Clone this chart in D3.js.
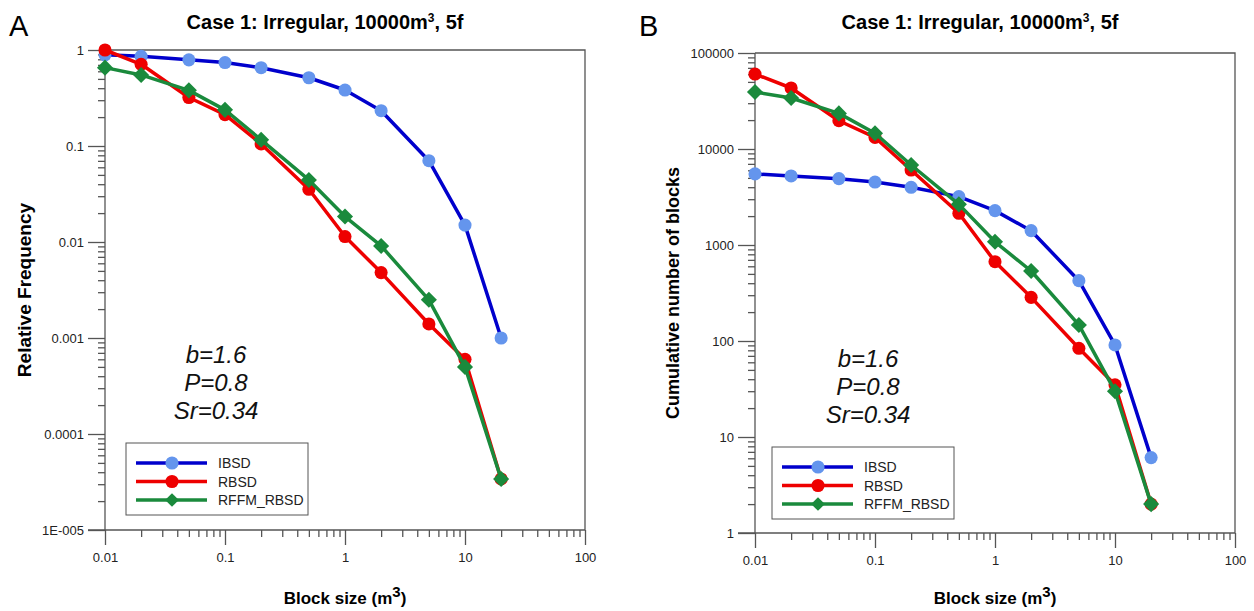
<!DOCTYPE html>
<meta charset="utf-8">
<style>

body {
  margin: 0;
  background: #fff;
}

text {
  font-family: "Liberation Sans", Arial, sans-serif;
}

.axis path,
.axis line {
  stroke: #555;
  stroke-width: 1.3px;
}

.axis text {
  font-size: 13px;
  fill: #222;
}

</style>
<body>
<script src="https://d3js.org/d3.v7.min.js"></script>
<script>

var width = 1254,
    height = 611;

// block sizes (m3), shared by both panels
var sizes = [0.01, 0.02, 0.05, 0.1, 0.2, 0.5, 1, 2, 5, 10, 20];

// panel A: relative frequency
var freqIBSD = [0.89, 0.86, 0.79, 0.74, 0.654, 0.514, 0.383, 0.233, 0.0703, 0.015, 0.001];
var freqRBSD = [1.0, 0.71, 0.32, 0.212, 0.105, 0.0354, 0.0114, 0.0048, 0.0014, 0.0006, 0.000034];
var freqRFFM = [0.655, 0.55, 0.38, 0.238, 0.116, 0.0443, 0.0184, 0.0091, 0.0025, 0.0005, 0.000034];

// panel B: cumulative number of blocks
var cumIBSD = [5500, 5240, 4910, 4530, 3990, 3190, 2280, 1410, 425, 91, 6.1];
var cumRBSD = [60400, 43200, 19700, 13200, 6040, 2140, 670, 285, 84, 35, 2];
var cumRFFM = [39200, 34000, 23500, 14600, 6810, 2650, 1080, 536, 147, 30, 2];

var xTicks = [0.01, 0.1, 1, 10, 100],
    xTickLabels = ["0.01", "0.1", "1", "10", "100"];
var yTicksA = [1, 0.1, 0.01, 0.001, 0.0001, 0.00001],
    yTickLabelsA = ["1", "0.1", "0.01", "0.001", "0.0001", "1E-005"];
var yTicksB = [1, 10, 100, 1000, 10000, 100000],
    yTickLabelsB = ["1", "10", "100", "1000", "10000", "100000"];

var seriesNames = ["IBSD", "RBSD", "RFFM_RBSD"],
    lineColors = ["#0000cc", "#ee0000", "#1a8a3c"],
    markerColors = ["#6495ed", "#ee0000", "#1a8a3c"],
    markerShapes = ["circle", "circle", "diamond"];

var svg = d3.select("body").append("svg")
    .attr("width", width)
    .attr("height", height);

function minorTicks(lo, hi) {
  var out = [];
  for (var e = Math.round(Math.log10(lo)); e < Math.round(Math.log10(hi)); e++) {
    for (var m = 2; m <= 9; m++) out.push(m * Math.pow(10, e));
  }
  return out;
}

function marker(shape, legend) {
  return shape == "diamond"
    ? d3.symbol().type(d3.symbolDiamond2).size(legend ? 120 : 165)
    : d3.symbol().type(d3.symbolCircle).size(135);
}

function drawPanel(p) {
  var g = svg.append("g");

  var x = d3.scaleLog().domain([0.01, 100]).range([p.left, p.right]);
  var y = d3.scaleLog().domain(p.yDomain).range([p.bottom, p.top]);

  // frame: top and right edges
  g.append("path")
      .attr("d", "M" + p.left + "," + p.top + "H" + p.right + "V" + p.bottom)
      .attr("fill", "none")
      .attr("stroke", "#555")
      .attr("stroke-width", 1.3);

  // minor ticks
  g.append("g")
      .attr("class", "axis")
      .attr("transform", "translate(" + p.left + ",0)")
      .call(d3.axisLeft(y).tickValues(minorTicks(p.yDomain[0], p.yDomain[1])).tickSize(7).tickFormat(""))
      .call(function(s) { s.select(".domain").remove(); });

  g.append("g")
      .attr("class", "axis")
      .attr("transform", "translate(0," + p.bottom + ")")
      .call(d3.axisBottom(x).tickValues(minorTicks(0.01, 100)).tickSize(7).tickFormat(""))
      .call(function(s) { s.select(".domain").remove(); });

  // major ticks
  g.append("g")
      .attr("class", "axis")
      .attr("transform", "translate(" + p.left + ",0)")
      .call(d3.axisLeft(y).tickValues(p.yTicks).tickSize(17).tickPadding(4)
        .tickFormat(function(d, i) { return p.yLabels[i]; }))
      .call(function(s) { s.select(".domain").attr("d", "M0," + p.top + "V" + p.bottom); });

  g.append("g")
      .attr("class", "axis")
      .attr("transform", "translate(0," + p.bottom + ")")
      .call(d3.axisBottom(x).tickValues(xTicks).tickSize(15).tickPadding(8)
        .tickFormat(function(d, i) { return xTickLabels[i]; }))
      .call(function(s) { s.select(".domain").attr("d", "M" + (p.left - 17) + ",0H" + p.right); });

  // series
  var line = d3.line()
      .x(function(d) { return x(d[0]); })
      .y(function(d) { return y(d[1]); });

  p.series.forEach(function(vals, k) {
    var pts = sizes.map(function(s, i) { return [s, vals[i]]; });
    g.append("path")
        .datum(pts)
        .attr("d", line)
        .attr("fill", "none")
        .attr("stroke", lineColors[k])
        .attr("stroke-width", 3.5)
        .attr("stroke-linejoin", "round");
    g.selectAll(".m" + k)
        .data(pts)
      .enter().append("path")
        .attr("transform", function(d) { return "translate(" + x(d[0]) + "," + y(d[1]) + ")"; })
        .attr("d", marker(markerShapes[k], false))
        .attr("fill", markerColors[k]);
  });

  // panel letter and title
  g.append("text")
      .attr("x", p.letterX)
      .attr("y", 36)
      .attr("font-size", 29)
      .text(p.letter);

  var title = g.append("text")
      .attr("x", p.titleX)
      .attr("y", 29)
      .attr("text-anchor", "middle")
      .attr("font-size", 20)
      .attr("font-weight", "bold")
      .text("Case 1: Irregular, 10000m");
  title.append("tspan").attr("font-size", 12).attr("dy", -7).text("3");
  title.append("tspan").attr("dy", 7).text(", 5f");

  // axis titles
  g.append("text")
      .attr("transform", "translate(" + p.yLabelX + "," + ((p.top + p.bottom) / 2) + ")rotate(-90)")
      .attr("text-anchor", "middle")
      .attr("font-size", p.yLabelSize)
      .attr("font-weight", "bold")
      .text(p.yLabel);

  var xl = g.append("text")
      .attr("x", (p.left + p.right) / 2)
      .attr("y", 604)
      .attr("text-anchor", "middle")
      .attr("font-size", 17)
      .attr("font-weight", "bold")
      .text("Block size (m");
  xl.append("tspan").attr("font-size", 15).attr("dy", -7).text("3");
  xl.append("tspan").attr("dy", 7).text(")");

  // fitted parameters
  ["b=1.6", "P=0.8", "Sr=0.34"].forEach(function(t, i) {
    g.append("text")
        .attr("x", p.noteX)
        .attr("y", p.noteY + i * 28)
        .attr("text-anchor", "middle")
        .attr("font-size", 24)
        .attr("font-style", "italic")
        .attr("fill", "#111")
        .text(t);
  });

  // legend
  var lg = g.append("g").attr("transform", "translate(" + p.legendX + "," + p.legendY + ")");
  lg.append("rect")
      .attr("width", 182)
      .attr("height", 72)
      .attr("fill", "#fff")
      .attr("stroke", "#555")
      .attr("stroke-width", 1);
  seriesNames.forEach(function(name, k) {
    var ry = 20 + k * 18.5;
    lg.append("line")
        .attr("x1", 10).attr("x2", 81)
        .attr("y1", ry).attr("y2", ry)
        .attr("stroke", lineColors[k])
        .attr("stroke-width", 3.5);
    lg.append("path")
        .attr("transform", "translate(46," + ry + ")")
        .attr("d", marker(markerShapes[k], true))
        .attr("fill", markerColors[k]);
    lg.append("text")
        .attr("x", 92)
        .attr("y", ry + 5)
        .attr("font-size", 14)
        .attr("fill", "#222")
        .text(name);
  });
}

drawPanel({
  left: 105, right: 585, top: 50, bottom: 530,
  yDomain: [0.00001, 1], yTicks: yTicksA, yLabels: yTickLabelsA,
  series: [freqIBSD, freqRBSD, freqRFFM],
  letter: "A", letterX: 9, titleX: 325,
  yLabel: "Relative Frequency", yLabelX: 31, yLabelSize: 19,
  noteX: 216, noteY: 363,
  legendX: 126, legendY: 443
});

drawPanel({
  left: 755, right: 1235, top: 53, bottom: 533,
  yDomain: [1, 100000], yTicks: yTicksB, yLabels: yTickLabelsB,
  series: [cumIBSD, cumRBSD, cumRFFM],
  letter: "B", letterX: 639, titleX: 980,
  yLabel: "Cumulative number of blocks", yLabelX: 679, yLabelSize: 18,
  noteX: 868, noteY: 367,
  legendX: 772, legendY: 447
});

</script>
